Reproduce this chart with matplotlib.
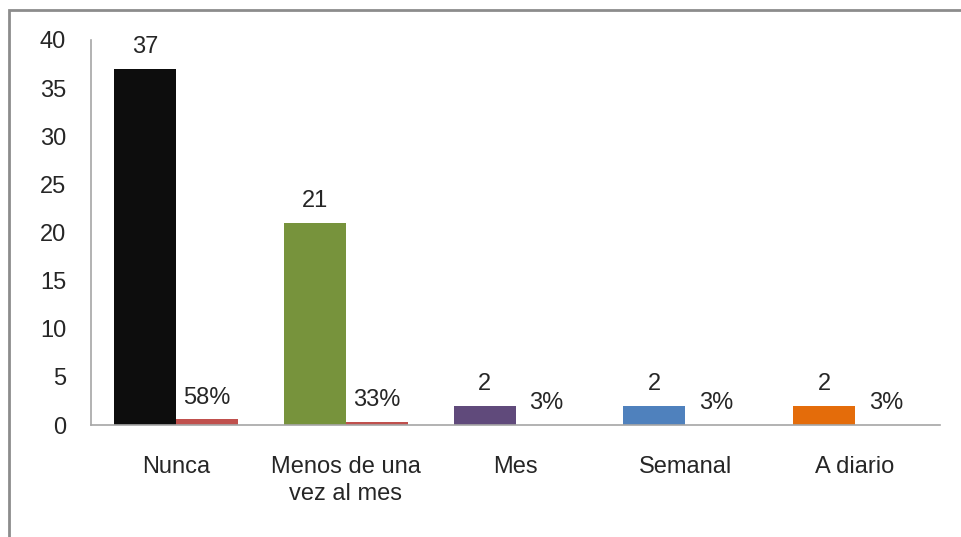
import matplotlib.pyplot as plt
import numpy as np
from matplotlib.patches import Rectangle

plt.rcParams['font.family'] = ['Liberation Sans', 'DejaVu Sans']

# dane
categorias = ['Nunca', 'Menos de una\nvez al mes', 'Mes', 'Semanal', 'A diario']
cantidad = [37, 21, 2, 2, 2]
porcentaje = [0.58, 0.33, 0.03, 0.03, 0.03]
etiquetas_pct = ['58%', '33%', '3%', '3%', '3%']
colores = ['#0d0d0d', '#77933c', '#604a7b', '#4f81bd', '#e46c0a']
color_pct = '#c0504d'
texto = '#262626'

fig = plt.figure(figsize=(9.61, 5.37), dpi=100)
ax = fig.add_axes([91 / 961, 1 - 425 / 537, (940 - 91) / 961, (425 - 40) / 537])

x = np.arange(len(categorias))
w = 0.365
b1 = ax.bar(x - w / 2, cantidad, w, color=colores)
b2 = ax.bar(x + w / 2, porcentaje, w, color=color_pct)

for r, v in zip(b1, cantidad):
    ax.text(r.get_x() + r.get_width() / 2, v + 1.1, str(v), ha='center', va='bottom',
            fontsize=17, color=texto)
for r, v, t in zip(b2, porcentaje, etiquetas_pct):
    ax.text(r.get_x() + r.get_width() / 2, v + 1.1, t, ha='center', va='bottom',
            fontsize=17, color=texto)

ax.set_xlim(-0.5, len(categorias) - 0.5)
ax.set_ylim(0, 40)
ax.set_yticks(range(0, 41, 5))
ax.set_xticks(x)
ax.set_xticklabels(categorias, fontsize=17, color=texto, va='top', linespacing=1.3)
ax.tick_params(axis='x', length=0, pad=22)
ax.tick_params(axis='y', length=0, pad=18, labelsize=17, labelcolor=texto)

for s in ['top', 'right']:
    ax.spines[s].set_visible(False)
for s in ['left', 'bottom']:
    ax.spines[s].set_color('#a6a6a6')
    ax.spines[s].set_linewidth(1.2)

# marco
fig.patches.append(Rectangle((9 / 961, -0.1), 1.2, 1 - 10 / 537 + 0.1,
                             transform=fig.transFigure, fill=False,
                             edgecolor='#8c8c8c', linewidth=2, figure=fig))

fig.savefig('out.png', dpi=100)
